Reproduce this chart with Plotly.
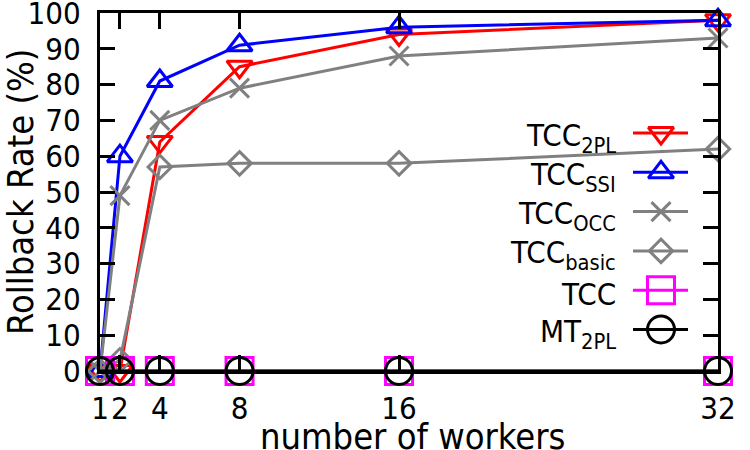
import plotly.graph_objects as go

workers = [1, 2, 4, 8, 16, 32]
tcc_2pl = [0, 0, 64, 85, 94, 98]
tcc_ssi = [0, 60, 81, 91, 96, 98]
tcc_occ = [0, 49, 70, 79, 88, 93]
tcc_basic = [0, 3, 57, 58, 58, 62]
tcc = [0, 0, 0, 0, 0, 0]
mt_2pl = [0, 0, 0, 0, 0, 0]

names = ["TCC<sub>2PL</sub>", "TCC<sub>SSI</sub>", "TCC<sub>OCC</sub>",
         "TCC<sub>basic</sub>", "TCC", "MT<sub>2PL</sub>"]
series = [tcc_2pl, tcc_ssi, tcc_occ, tcc_basic, tcc, mt_2pl]
colors = ["#ff0000", "#0000ff", "#808080", "#808080", "#ff00ff", "#000000"]
symbols = ["triangle-down-open", "triangle-up-open", "x-thin", "diamond-open",
           "square-open", "circle-open"]
sizes = [22, 22, 19, 18, 27, 27]

FONT = "DejaVu Sans Condensed, DejaVu Sans, sans-serif"

L, T, B, R = 100, 13, 371, 718


def px(xp):
    return (xp - L) / (R - L)


def py(yp):
    return (B - yp) / (B - T)


fig = go.Figure()
for name, ys, c, s, sz in zip(names, series, colors, symbols, sizes):
    fig.add_trace(go.Scatter(
        x=workers, y=ys, mode="lines+markers", name=name,
        line=dict(color=c, width=3),
        marker=dict(symbol=s, size=sz, color=c, line=dict(color=c, width=3)),
        cliponaxis=False, showlegend=False))

# manual legend (symbols on right of text, like gnuplot)
row0, dy = 133, 39.3
for i, (name, c, s, sz) in enumerate(zip(names, colors, symbols, sizes)):
    ry = row0 + i * dy
    fig.add_trace(go.Scatter(x=[633, 688], y=[ry, ry], mode="lines",
                             line=dict(color=c, width=3), xaxis="x2", yaxis="y2",
                             showlegend=False, hoverinfo="skip"))
    fig.add_trace(go.Scatter(x=[661], y=[ry], mode="markers",
                             marker=dict(symbol=s, size=sz, color=c, line=dict(color=c, width=3)),
                             xaxis="x2", yaxis="y2", showlegend=False, hoverinfo="skip",
                             cliponaxis=False))
    fig.add_annotation(x=px(618), y=py(ry + 4), xref="paper", yref="paper", text=name,
                       showarrow=False, xanchor="right", yanchor="middle",
                       font=dict(family=FONT, size=31, color="black"))

# axis titles
fig.add_annotation(x=px(412), y=py(436), xref="paper", yref="paper", text="number of workers",
                   showarrow=False, xanchor="center", yanchor="middle",
                   font=dict(family=FONT, size=36, color="black"))
fig.add_annotation(x=px(20), y=py(192), xref="paper", yref="paper", text="Rollback Rate (%)",
                   showarrow=False, xanchor="center", yanchor="middle", textangle=-90,
                   font=dict(family=FONT, size=36, color="black"))

fig.update_layout(
    width=750, height=450,
    margin=dict(l=L, r=750 - R, t=T, b=450 - B, autoexpand=False),
    plot_bgcolor="white", paper_bgcolor="white",
    font=dict(family=FONT, color="black"),
    xaxis=dict(range=[1, 32], tickvals=workers, ticktext=[str(w) for w in workers],
               ticks="inside", ticklen=16, tickwidth=3, tickcolor="black",
               showline=True, linewidth=3, linecolor="black", mirror="ticks",
               showgrid=False, zeroline=False, ticklabelstandoff=8,
               ticklabeloverflow="allow", automargin=False,
               tickfont=dict(family=FONT, size=31)),
    yaxis=dict(range=[0, 100], tickvals=list(range(0, 101, 10)),
               ticks="inside", ticklen=15, tickwidth=3, tickcolor="black",
               showline=True, linewidth=3, linecolor="black", mirror="ticks",
               showgrid=False, zeroline=False, ticklabelstandoff=10,
               ticklabeloverflow="allow", automargin=False,
               tickfont=dict(family=FONT, size=31)),
    xaxis2=dict(range=[L, R], overlaying="x", visible=False, fixedrange=True, automargin=False),
    yaxis2=dict(range=[B, T], overlaying="y", visible=False, fixedrange=True, automargin=False),
)

fig.write_html("out.html")
